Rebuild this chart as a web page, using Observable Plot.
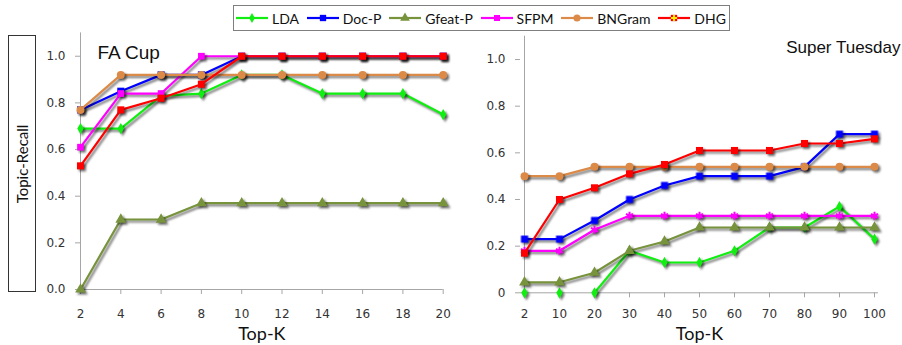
<!DOCTYPE html>
<html><head><meta charset="utf-8">
<script src="https://cdn.jsdelivr.net/npm/d3@7"></script>
<script src="https://cdn.jsdelivr.net/npm/@observablehq/plot@0.6"></script>
<style>
body{margin:0;background:#fff;}
#wrap{position:relative;width:902px;height:345px;overflow:hidden;background:#fff;}
.panel{position:absolute;top:0;}
.panel svg g[aria-label="line"], .panel svg g[aria-label="dot"]{filter:drop-shadow(2px 2.5px 1.3px rgba(0,0,0,0.55));}
#legend{position:absolute;left:233px;top:5px;width:497px;height:26px;border:1px solid #7f7f7f;box-sizing:border-box;display:flex;align-items:center;justify-content:space-between;padding:0 3px 0 1px;font-family:Lato,sans-serif;font-size:14px;color:#111;background:#fff;white-space:nowrap;}
#legend .item{display:flex;align-items:center;flex-shrink:0;white-space:nowrap;}
#legend .item span{margin-left:3px;white-space:nowrap;}
#ylab{position:absolute;left:8px;top:35px;width:28px;height:257px;border:1px solid #333;box-sizing:border-box;}
#ylab span{position:absolute;left:50%;top:50%;transform:translate(-50%,-50%) rotate(-90deg);white-space:nowrap;font-family:Lato,sans-serif;font-size:15px;color:#111;}
</style></head>
<body>
<div id="wrap">
  <div id="ylab"><span>Topic-Recall</span></div>
  <div id="left" class="panel" style="left:0px"></div>
  <div id="right" class="panel" style="left:450px"></div>
  <div id="legend"></div>
</div>
<script>
// ---- data ----
const series = ["LDA", "Doc-P", "Gfeat-P", "SFPM", "BNGram", "DHG"];
const colors = ["#11ee11", "#0000ff", "#77933c", "#ff00ff", "#dc8a48", "#ff0000"];

const leftTitle = "FA Cup";
const leftK = [2, 4, 6, 8, 10, 12, 14, 16, 18, 20];
const leftLDA    = [0.69, 0.69, 0.83, 0.84, 0.92, 0.92, 0.84, 0.84, 0.84, 0.75];
const leftDocP   = [0.77, 0.85, 0.92, 0.92, 1.0, 1.0, 1.0, 1.0, 1.0, 1.0];
const leftGfeatP = [0.0, 0.30, 0.30, 0.37, 0.37, 0.37, 0.37, 0.37, 0.37, 0.37];
const leftSFPM   = [0.61, 0.84, 0.84, 1.0, 1.0, 1.0, 1.0, 1.0, 1.0, 1.0];
const leftBNGram = [0.77, 0.92, 0.92, 0.92, 0.92, 0.92, 0.92, 0.92, 0.92, 0.92];
const leftDHG    = [0.53, 0.77, 0.82, 0.88, 1.0, 1.0, 1.0, 1.0, 1.0, 1.0];
const leftYTicks = [0, 0.2, 0.4, 0.6, 0.8, 1.0];

const rightTitle = "Super Tuesday";
const rightK = [2, 10, 20, 30, 40, 50, 60, 70, 80, 90, 100];
const rightLDA    = [0, 0, 0, 0.18, 0.13, 0.13, 0.18, 0.28, 0.28, 0.37, 0.23];
const rightDocP   = [0.23, 0.23, 0.31, 0.40, 0.46, 0.50, 0.50, 0.50, 0.54, 0.68, 0.68];
const rightGfeatP = [0.045, 0.045, 0.086, 0.18, 0.22, 0.28, 0.28, 0.28, 0.28, 0.28, 0.28];
const rightSFPM   = [0.18, 0.18, 0.27, 0.33, 0.33, 0.33, 0.33, 0.33, 0.33, 0.33, 0.33];
const rightBNGram = [0.50, 0.50, 0.54, 0.54, 0.54, 0.54, 0.54, 0.54, 0.54, 0.54, 0.54];
const rightDHG    = [0.17, 0.40, 0.45, 0.51, 0.55, 0.61, 0.61, 0.61, 0.64, 0.64, 0.66];
const rightYTicks = [0, 0.2, 0.4, 0.6, 0.8, 1.0];
// LDA on Super Tuesday: line starts at K=20 (first two points plotted without connecting line)
const rightLDALineFrom = 20;

const xLabel = "Top-K";

// marker symbols
const symLeft  = ["diamond", "square", "triangle", "square", "circle", "square"];
const symRight = ["diamond", "square", "triangle", "asterisk", "circle", "square"];
const symR = [3.4, 4, 4, 3.8, 4, 4];

function rows(K, vals) {
  const out = [];
  series.forEach((s, i) => K.forEach((k, j) => out.push({series: s, k, v: vals[i][j]})));
  return out;
}

function makePanel({K, vals, xType, width, height, mL, mR, mT, mB, syms, yFmt, yTicks, title, titleOpts, lineFilter, xPad, labelDy}) {
  const data = rows(K, vals);
  const marks = [
    Plot.ruleX([K[0]], {stroke: "#a6a6a6", strokeWidth: 1}),
    Plot.ruleY([0], {stroke: "#a6a6a6", strokeWidth: 1}),
    Plot.axisY({ticks: yTicks, tickFormat: yFmt, tickSize: 5, tickPadding: 10, stroke: "#a6a6a6", fill: "#333", label: null}),
    Plot.axisX({ticks: K, tickFormat: d => String(d), tickSize: 5, tickPadding: xPad, stroke: "#a6a6a6", fill: "#333", label: null}),
    Plot.text([xLabel], {frameAnchor: "bottom", lineAnchor: "middle", dy: labelDy, fontSize: 18, fontFamily: "Lato", fill: "#111"}),
    Plot.text([title], titleOpts)
  ];
  series.forEach((s, i) => {
    const d = data.filter(r => r.series === s);
    const ld = lineFilter ? d.filter(r => lineFilter(r)) : d;
    marks.push(Plot.line(ld, {x: "k", y: "v", stroke: colors[i], strokeWidth: 2.2}));
    const sym = syms[i];
    if (sym === "asterisk") {
      marks.push(Plot.dot(d, {x: "k", y: "v", symbol: sym, r: symR[i], stroke: colors[i], strokeWidth: 2}));
    } else {
      marks.push(Plot.dot(d, {x: "k", y: "v", symbol: sym, r: symR[i], fill: colors[i], stroke: "none"}));
    }
    if (s === "DHG") {
      marks.push(Plot.dot(d, {x: "k", y: "v", symbol: "plus", r: 2.6, fill: "#ffee00", stroke: "none"}));
    }
  });
  return Plot.plot({
    width, height,
    marginLeft: mL, marginRight: mR, marginTop: mT, marginBottom: mB,
    style: {fontFamily: "DejaVu Sans", fontSize: "12px", background: "transparent", overflow: "visible"},
    x: {type: xType, domain: xType === "point" ? K : [K[0], K[K.length - 1]], padding: 0},
    y: {domain: [0, 1.1]},
    marks
  });
}

const f1 = d3.format(".1f");

document.getElementById("left").append(makePanel({
  K: leftK,
  vals: [leftLDA, leftDocP, leftGfeatP, leftSFPM, leftBNGram, leftDHG],
  xType: "linear", width: 450, height: 345, mL: 80, mR: 7.3, mT: 32.4, mB: 56,
  syms: symLeft, yFmt: f1, yTicks: leftYTicks, xPad: 15, labelDy: 45,
  title: leftTitle,
  titleOpts: {frameAnchor: "top-left", dx: 17, dy: 13, textAnchor: "start", fontSize: 19, fontFamily: "Liberation Sans", fill: "#111"}
}));

document.getElementById("right").append(makePanel({
  K: rightK,
  vals: [rightLDA, rightDocP, rightGfeatP, rightSFPM, rightBNGram, rightDHG],
  xType: "point", width: 452, height: 345, mL: 70, mR: 24, mT: 35.7, mB: 52.7,
  syms: symRight, yFmt: d => d === 0 ? "0" : f1(d), yTicks: rightYTicks, xPad: 12, labelDy: 41,
  title: rightTitle,
  titleOpts: {frameAnchor: "top-right", dx: 22, dy: 5, textAnchor: "end", fontSize: 17, fontFamily: "Liberation Sans", fill: "#111"},
  lineFilter: r => !(r.series === "LDA" && r.k < rightLDALineFrom)
}));

// legend
const legend = d3.select("#legend");
series.forEach((s, i) => {
  const item = legend.append("div").attr("class", "item");
  const svg = item.append("svg").attr("width", 34).attr("height", 14);
  svg.append("line").attr("x1", 1).attr("x2", 33).attr("y1", 7).attr("y2", 7).attr("stroke", colors[i]).attr("stroke-width", 2.2);
  const typeMap = {diamond: d3.symbolDiamond, square: d3.symbolSquare, triangle: d3.symbolTriangle, circle: d3.symbolCircle};
  svg.append("path").attr("transform", "translate(17,7)")
    .attr("d", d3.symbol(typeMap[symLeft[i]], Math.PI * symR[i] * symR[i] * 0.8)())
    .attr("fill", colors[i]);
  if (s === "DHG") {
    svg.append("path").attr("transform", "translate(17,7)")
      .attr("d", d3.symbol(d3.symbolCross, Math.PI * 2.6 * 2.6)()).attr("fill", "#ffee00");
  }
  item.append("span").text(s);
});
</script>
</body></html>
